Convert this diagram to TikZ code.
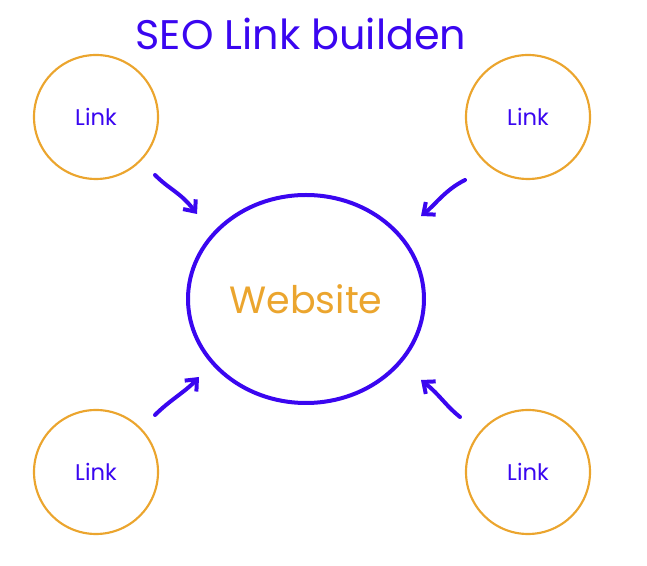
\documentclass[tikz,border=0pt]{standalone}
\usepackage{fontspec}
\setmainfont{Poppins}
\usetikzlibrary{arrows.meta,shapes.geometric}
\definecolor{bl}{HTML}{3A06F0}
\definecolor{or}{HTML}{EBA52E}
\begin{document}
\begin{tikzpicture}[x=0.75pt,y=-0.75pt,
  linkc/.style={circle,draw=or,line width=1.6pt,minimum size=124*0.75pt,text=bl,font=\fontsize{17}{20}\selectfont},
  arr/.style={draw=bl,line width=3pt,line cap=round,-{Straight Barb[length=7pt,width=12pt]}}]
\useasboundingbox (0,0) rectangle (647,566);
\node[text=bl,font=\fontsize{31}{36}\selectfont] (t) at (301,34) {SEO Link builden};
\node[ellipse,draw=bl,line width=3pt,minimum width=236*0.75pt,minimum height=208*0.75pt,text=or,font=\fontsize{28.5}{33}\selectfont] (w) at (306,299) {Website};
\node[linkc] (a) at (96,117) {Link};
\node[linkc] (b) at (528,117) {Link};
\node[linkc] (c) at (96,472) {Link};
\node[linkc] (d) at (528,472) {Link};
\coordinate (a1) at (155,175); \coordinate (a2) at (197,214);
\coordinate (b1) at (465,180); \coordinate (b2) at (421,216);
\coordinate (c1) at (155,415); \coordinate (c2) at (199,377);
\coordinate (d1) at (460,417); \coordinate (d2) at (421,380);
\draw[arr] (a1) .. controls (170,190) and (180,192) .. (a2);
\draw[arr] (b1) .. controls (445,190) and (435,205) .. (b2);
\draw[arr] (c1) .. controls (170,400) and (185,392) .. (c2);
\draw[arr] (d1) .. controls (445,405) and (440,395) .. (d2);
\end{tikzpicture}
\end{document}
